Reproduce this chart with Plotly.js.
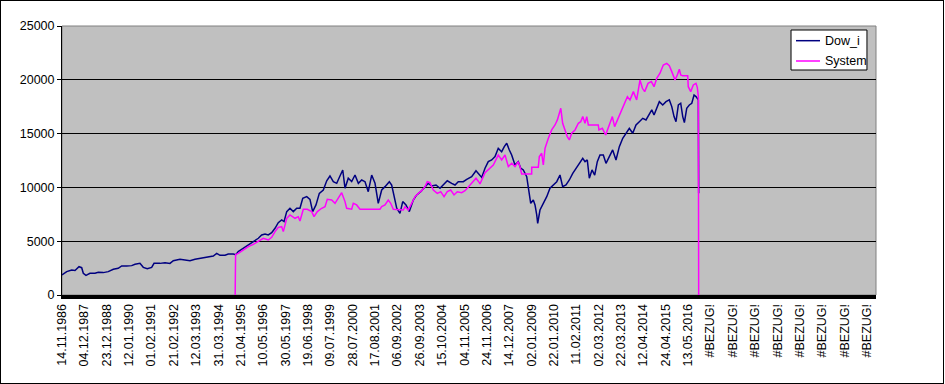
<!DOCTYPE html>
<html>
<head>
<meta charset="utf-8">
<script src="https://cdn.plot.ly/plotly-3.0.1.min.js"></script>
<style>
  html, body { margin: 0; padding: 0; background: #ffffff; }
  #wrap { position: relative; width: 945px; height: 384px; }
  #chart { position: absolute; left: 0; top: 0; width: 945px; height: 384px; }
  #frame { position: absolute; left: 0; top: 0; width: 944px; height: 384px; box-sizing: border-box; border: 1px solid #000; pointer-events: none; }
</style>
</head>
<body>
<div id="wrap"><div id="chart"></div><div id="frame"></div></div>
<script>
// Category axis: one row per trading day, a label every 275 rows
const tickLabels = ["14.11.1986","04.12.1987","23.12.1988","12.01.1990","01.02.1991","21.02.1992","12.03.1993","31.03.1994","21.04.1995","10.05.1996","30.05.1997","19.06.1998","09.07.1999","28.07.2000","17.08.2001","06.09.2002","26.09.2003","15.10.2004","04.11.2005","24.11.2006","14.12.2007","02.01.2009","22.01.2010","11.02.2011","02.03.2012","22.03.2013","12.04.2014","24.04.2015","13.05.2016","#BEZUG!","#BEZUG!","#BEZUG!","#BEZUG!","#BEZUG!","#BEZUG!","#BEZUG!","#BEZUG!"];
const rowsPerLabel = 275;
const totalRows = 10012;

const seriesNames = ["Dow_i", "System"];
const seriesColors = ["#000080", "#FF00FF"];

// Dow_i series (row index, value)
const dowRows = [0,9,58,119,160,209,242,262,295,344,
406,446,508,569,631,692,734,796,857,898,
959,1000,1049,1103,1132,1205,1267,1328,1369,1451,
1513,1574,1636,1697,1780,1861,1903,1943,2005,2045,
2107,2137,2168,2230,2291,2353,2415,2456,2497,2537,
2579,2620,2660,2702,2731,2764,2804,2845,2887,2927,
2961,3010,3050,3083,3124,3165,3214,3256,3296,3337,
3379,3419,3453,3481,3521,3563,3604,3645,3686,3727,
3767,3809,3850,3890,3932,3973,4026,4055,4084,4117,
4157,4191,4231,4272,4321,4363,4412,4465,4505,4547,
4600,4649,4690,4739,4793,4834,4874,4936,4978,5039,
5092,5133,5162,5203,5243,5285,5326,5366,5408,5440,
5470,5502,5531,5572,5612,5642,5674,5716,5735,5748,
5765,5797,5818,5839,5851,5879,5920,5962,6002,6043,
6085,6125,6158,6199,6240,6282,6322,6363,6405,6433,
6461,6486,6519,6552,6584,6617,6658,6691,6732,6773,
6814,6855,6897,6937,6978,7020,7060,7101,7143,7183,
7224,7254,7282,7315,7347,7389,7429,7470,7500,7528,
7552,7581,7610,7635,7655,7684,7716,7746,7774,7798,
7827,7831];
const dowVals = [1860,1920,2170,2320,2280,2630,2540,2020,1830,2020,
2020,2110,2080,2170,2390,2480,2700,2700,2730,2850,
2940,2570,2450,2570,2940,2940,3000,2940,3190,3320,
3250,3190,3320,3410,3500,3620,3870,3690,3690,3810,
3810,3750,4030,4340,4650,4900,5270,5580,5670,5580,
5790,6200,6720,6970,6820,7750,8060,7750,8060,8060,
8990,9140,8890,7750,8370,9450,9760,10620,11060,10540,
10380,11060,11620,9920,10850,10540,11150,10380,10690,10530,
9600,11150,10380,8520,9760,10070,10530,10220,9140,8060,
7590,8680,8370,7750,8830,9300,9600,10070,10380,10130,
10220,9920,10220,10620,10380,10220,10530,10530,10750,11000,
11550,11150,10930,11780,12390,12550,12860,13630,13320,13790,
14100,13480,13010,12080,12390,11780,11620,11000,10070,9140,
8520,8830,8370,7440,6660,7900,8520,9140,9920,10220,
10530,11150,10070,10220,10690,11310,11780,12240,12700,12390,
12550,10850,11620,11150,12390,13010,13010,12240,12860,13480,
12550,13790,14560,15030,15490,15030,15800,16110,16420,16270,
16890,17200,16730,17350,17970,17660,17970,18130,17510,16580,
16110,17660,17820,16580,16020,17350,17660,17820,18590,18440,
18130,9450];

// System series (row index, value)
const sysRows = [2130,2135,2168,2230,2291,2353,2415,2476,2537,2579,
2620,2660,2702,2722,2764,2804,2866,2906,2927,2968,
3017,3071,3100,3141,3194,3235,3263,3317,3358,3398,
3440,3481,3501,3563,3583,3624,3665,3911,3932,3973,
4013,4043,4075,4198,4219,4259,4301,4342,4383,4424,
4465,4493,4526,4567,4616,4658,4699,4739,4781,4822,
4862,4916,4957,4998,5039,5092,5133,5141,5203,5243,
5305,5366,5408,5449,5490,5531,5572,5612,5633,5654,
5777,5778,5858,5871,5900,5920,5941,5982,6023,6064,
6093,6117,6135,6158,6187,6215,6240,6269,6310,6351,
6380,6405,6433,6454,6474,6596,6604,6646,6687,6728,
6769,6797,6830,6871,6912,6954,6986,7028,7068,7109,
7139,7167,7208,7249,7282,7315,7355,7396,7438,7470,
7500,7540,7568,7593,7610,7635,7696,7703,7733,7765,
7798,7814,7827,7831];
const sysVals = [0,3750,3870,4180,4490,4710,5020,5270,5110,5360,
5890,6290,6350,5890,7130,7440,7130,7280,6880,7970,
7970,7750,7280,7750,8060,8210,8890,8830,8520,8990,
9510,8680,8060,7970,8520,8370,7970,7970,8210,8370,
8830,8520,7970,7900,8210,7900,8520,9140,9450,9700,
10070,10530,10440,9760,9450,9600,9140,9600,9760,9300,
9600,9510,9700,10070,10380,10850,10440,10320,11370,11620,
12080,13010,12550,13010,11930,12240,11930,12390,11930,11250,
11250,11870,11870,12860,13170,12080,13630,14560,15340,15800,
16270,16890,17350,15960,15340,14720,14410,15030,15340,15960,
16110,16580,15960,16580,15800,15800,15340,15490,14870,15800,
16580,15650,16270,17040,17820,18440,18130,18900,18130,19980,
19210,18900,19670,19830,19360,20130,20610,21380,21530,21300,
20760,19980,20450,20980,20450,20370,20370,19360,18900,19520,
19670,19300,18440,0];

const yTicks = [0,5000,10000,15000,20000,25000];

const tickRows = tickLabels.map((_, i) => i * rowsPerLabel);
const font = "Liberation Sans, Arial, sans-serif";

const traces = [
  { x: dowRows, y: dowVals, type: "scatter", mode: "lines", name: seriesNames[0],
    line: { color: seriesColors[0], width: 1.5 } },
  { x: sysRows, y: sysVals, type: "scatter", mode: "lines", name: seriesNames[1],
    line: { color: seriesColors[1], width: 1.5 } }
];

// Legend box drawn like the Excel legend (paper coordinates)
const legBox = { x0: 0.8956, x1: 0.9889, y0: 0.8364, y1: 0.9851 };
const legRowsY = [0.9454, 0.8699];
const legLineX = [0.9017, 0.9312];
const legTextX = 0.9349;

const shapes = [
  { type: "rect", xref: "paper", yref: "paper", x0: 0, x1: 1, y0: 0, y1: 1,
    line: { color: "#808080", width: 1 }, layer: "below" },
  { type: "rect", xref: "paper", yref: "paper", x0: legBox.x0, x1: legBox.x1, y0: legBox.y0, y1: legBox.y1,
    line: { color: "#000", width: 1 }, fillcolor: "#ffffff", layer: "above" }
];
const annotations = [];
seriesNames.forEach((n, i) => {
  shapes.push({ type: "line", xref: "paper", yref: "paper",
    x0: legLineX[0], x1: legLineX[1], y0: legRowsY[i], y1: legRowsY[i],
    line: { color: seriesColors[i], width: 1.5 }, layer: "above" });
  annotations.push({ xref: "paper", yref: "paper", x: legTextX, y: legRowsY[i],
    xanchor: "left", yanchor: "middle", text: n, showarrow: false,
    font: { family: font, size: 12.5, color: "#000" } });
});

const layout = {
  width: 945, height: 384,
  margin: { l: 62, r: 69, t: 26, b: 89, pad: 0 },
  paper_bgcolor: "#ffffff",
  plot_bgcolor: "#C0C0C0",
  font: { family: font, size: 12.5, color: "#000" },
  showlegend: false,
  xaxis: {
    type: "linear", range: [0, totalRows],
    tickvals: tickRows, ticktext: tickLabels,
    tickangle: -90, ticks: "", showgrid: false, zeroline: false,
    showline: true, linecolor: "#000", linewidth: 4,
    tickfont: { family: font, size: 12.5, color: "#000" }
  },
  yaxis: {
    range: [0, 25000], tickvals: yTicks, ticktext: yTicks.map(String),
    ticks: "outside", ticklen: 4, tickcolor: "#000", tickwidth: 1,
    showgrid: true, gridcolor: "#000", gridwidth: 1, zeroline: false,
    showline: true, linecolor: "#000", linewidth: 1,
    tickfont: { family: font, size: 12.5, color: "#000" }
  },
  shapes: shapes,
  annotations: annotations
};

Plotly.newPlot("chart", traces, layout, { staticPlot: true, displayModeBar: false });
</script>
</body>
</html>
